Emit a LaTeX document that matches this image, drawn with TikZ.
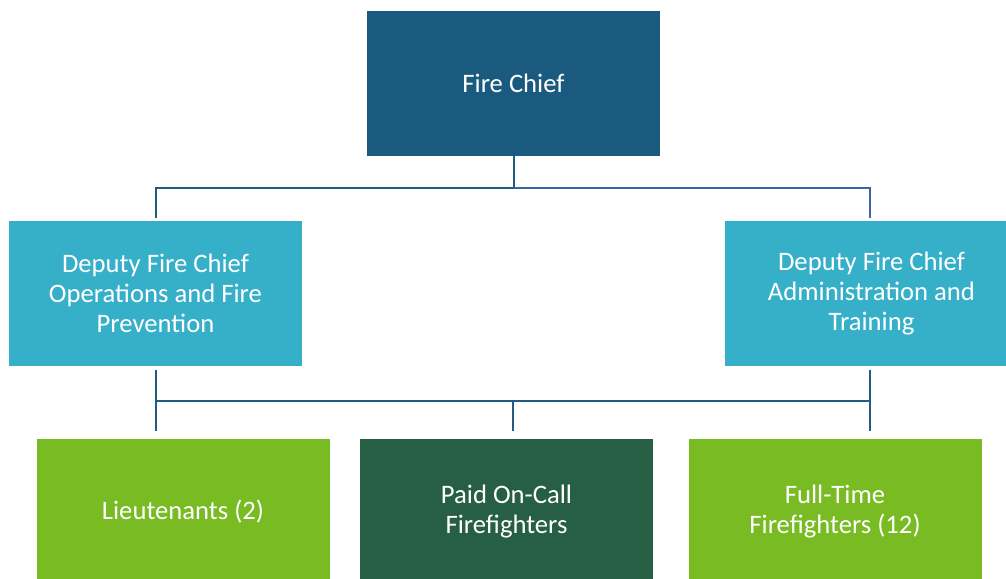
\documentclass[tikz,border=0pt]{standalone}
\usepackage{fontspec}
\setmainfont{Carlito}
\definecolor{chiefblue}{HTML}{1A5A7E}
\definecolor{deputyblue}{HTML}{36AFC8}
\definecolor{crewgreen}{HTML}{78BB22}
\definecolor{paidgreen}{HTML}{265F43}
\definecolor{wireteal}{HTML}{1F5E80}
\definecolor{wireblue}{HTML}{3F62A0}
\tikzset{
  orgbox/.style={minimum width=219.75pt,minimum height=108.75pt,inner sep=0pt,
    text=white,align=center,font=\fontsize{20}{22.5}\selectfont},
  wire/.style={line width=1.5pt,wireteal}
}
\begin{document}
\begin{tikzpicture}[x=0.75pt,y=-0.75pt]
\useasboundingbox (0,0) rectangle (1006,578);
\clip (0,0) rectangle (1006,578);
\node[orgbox,fill=chiefblue] (chief) at (513.5,83.5) {Fire Chief};
\node[orgbox,fill=deputyblue] (depL) at (155.5,293.5) {Deputy Fire Chief\\Operations and Fire\\Prevention};
\node[orgbox,fill=deputyblue] (depR) at (871.5,293.5) {Deputy Fire Chief\\Administration and\\Training};
\node[orgbox,fill=crewgreen] (lieut) at (183,511.5) {Lieutenants (2)};
\node[orgbox,fill=paidgreen] (paid) at (506.5,511.5) {Paid On-Call\\Firefighters};
\node[orgbox,fill=crewgreen] (full) at (835,511.5) {Full-Time\\Firefighters (12)};
\coordinate (busT) at (513.5,188);
\coordinate (busL) at (155.5,401);
\coordinate (busR) at (870,401);
\coordinate (busM) at (513,401);
\draw[wire,shorten >=2.25pt] (chief.south) -- (busT) -| (depL.north);
\draw[wire,wireblue,shorten >=2.25pt] (busT) -| (870,221);
\draw[wire,shorten <=3pt,shorten >=6pt] (depL.south) -- (depL.south |- lieut.north);
\draw[wire,shorten <=3pt,shorten >=6pt] (870,366) -- (870,439);
\draw[wire] (busL) -- (busR);
\draw[wire,shorten >=6pt] (busM) -- (busM |- paid.north);
\end{tikzpicture}
\end{document}
